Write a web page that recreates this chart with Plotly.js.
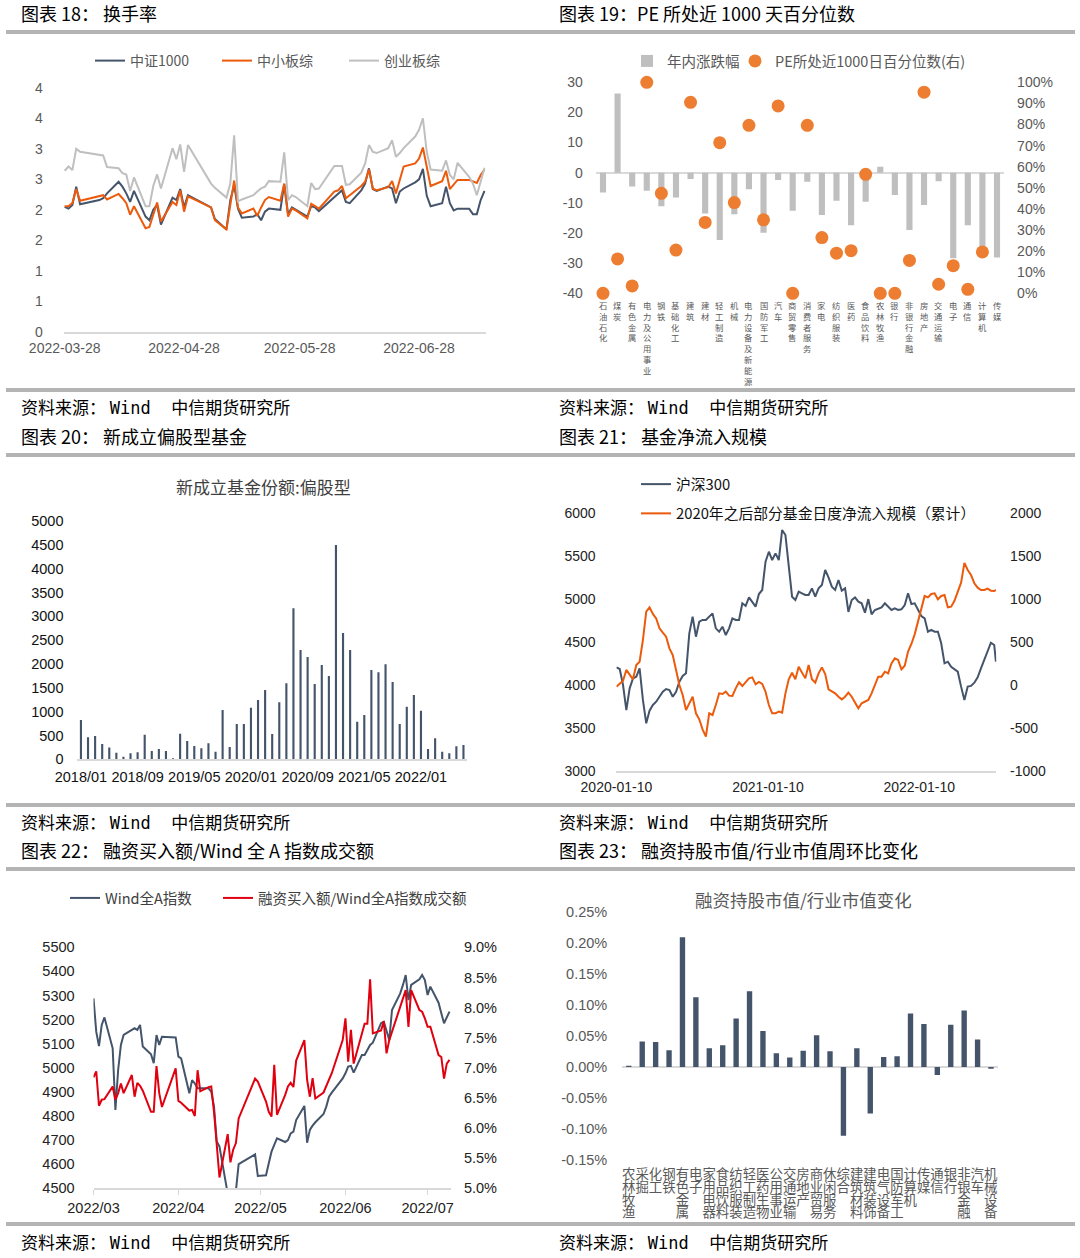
<!DOCTYPE html>
<html><head><meta charset="utf-8">
<script src="https://cdn.plot.ly/plotly-3.0.1.min.js"></script>
<style>html,body{margin:0;padding:0;background:#fff}#chart{width:1080px;height:1258px}</style>
</head><body><div id="chart"></div>
<script>
// ---------------- DATA ----------------
// Chart 18 换手率
const turnDates = ['2022-03-28','2022-03-29','2022-03-30','2022-03-31','2022-04-01','2022-04-06','2022-04-07','2022-04-08','2022-04-11','2022-04-12','2022-04-13','2022-04-14','2022-04-15','2022-04-18','2022-04-19','2022-04-20','2022-04-21','2022-04-22','2022-04-25','2022-04-26','2022-04-27','2022-04-28','2022-04-29','2022-05-05','2022-05-06','2022-05-09','2022-05-10','2022-05-11','2022-05-12','2022-05-13','2022-05-16','2022-05-17','2022-05-18','2022-05-19','2022-05-20','2022-05-23','2022-05-24','2022-05-25','2022-05-26','2022-05-27','2022-05-30','2022-05-31','2022-06-01','2022-06-02','2022-06-06','2022-06-07','2022-06-08','2022-06-09','2022-06-10','2022-06-13','2022-06-14','2022-06-15','2022-06-16','2022-06-17','2022-06-20','2022-06-21','2022-06-22','2022-06-23','2022-06-24','2022-06-27','2022-06-28','2022-06-29','2022-06-30','2022-07-01','2022-07-04','2022-07-05','2022-07-06','2022-07-07','2022-07-08','2022-07-11','2022-07-12','2022-07-13','2022-07-14','2022-07-15'];
const zz1000 = [2.05,2.02,2.08,2.38,2.09,2.16,2.19,2.27,2.46,2.38,2.27,2.13,2.31,1.89,1.83,2.00,2.08,1.76,2.20,2.16,2.34,2.04,2.24,2.04,1.85,1.68,2.16,2.40,2.02,1.87,1.89,1.93,1.83,1.97,2.02,2.00,2.42,1.93,2.04,2.00,1.89,2.06,2.04,1.98,2.20,2.26,2.32,2.13,2.11,2.32,2.43,2.68,2.34,2.31,2.38,2.35,2.11,2.30,2.35,2.45,2.50,2.67,2.23,2.06,2.11,2.38,2.11,1.99,2.02,2.02,1.93,1.93,2.16,2.31];
const zxbz = [2.06,2.06,2.11,2.34,2.15,2.22,2.24,2.17,2.26,2.19,2.11,1.92,2.06,1.70,1.72,1.92,2.12,1.81,2.13,2.08,2.32,1.97,2.22,2.04,1.83,1.68,2.11,2.48,2.04,1.94,2.02,1.90,2.04,2.16,2.21,2.15,2.43,1.89,2.02,1.99,1.86,2.10,2.06,2.02,2.30,2.32,2.39,2.19,2.24,2.39,2.46,2.66,2.35,2.32,2.37,2.47,2.27,2.49,2.71,2.76,2.84,3.02,2.70,2.39,2.47,2.64,2.34,2.41,2.49,2.49,2.47,2.44,2.57,2.66];
const cybz = [2.64,2.71,2.65,3.00,2.95,2.90,2.89,2.70,2.68,2.60,2.58,2.31,2.53,2.06,2.06,2.39,2.58,2.35,3.01,2.83,3.07,2.62,3.06,2.43,2.36,2.20,2.43,3.22,2.14,2.17,2.24,2.30,2.35,2.38,2.47,2.46,2.94,2.16,2.24,2.21,2.06,2.44,2.34,2.35,2.72,2.72,2.72,2.41,2.42,2.61,2.76,3.06,2.95,2.93,3.01,3.14,2.87,2.93,3.01,3.20,3.31,3.50,2.95,2.66,2.64,2.81,2.57,2.50,2.77,2.54,2.43,2.24,2.46,2.69];
const turnTickVals = [0,0.5,1,1.5,2,2.5,3,3.5,4];
const turnTickText = ['0','1','1','2','2','3','3','4','4'];
const turnXTicks = ['2022-03-28','2022-04-28','2022-05-28','2022-06-28'];

// Chart 19 PE 百分位
const peCats = ['石油石化','煤炭','有色金属','电力及公用事业','钢铁','基础化工','建筑','建材','轻工制造','机械','电力设备及新能源','国防军工','汽车','商贸零售','消费者服务','家电','纺织服装','医药','食品饮料','农林牧渔','银行','非银行金融','房地产','交通运输','电子','通信','计算机','传媒'];
const peYtd = [-6.6,26.3,-4.6,-6.0,-11.1,-8.2,-2.1,-13.5,-22.3,-13.8,-5.5,-19.9,-2.4,-12.6,-3.0,-14.0,-9.3,-17.4,-9.6,2.0,-7.4,-19.0,-10.7,-2.8,-28.4,-17.4,-25.7,-28.1];
const pePct = [0,16.3,3.5,100,47.4,20.5,90.5,33.6,71.4,43.0,79.6,34.8,88.8,0,79.6,26.4,19.0,20.2,56.4,0,0,15.6,95.3,4.3,13.1,1.9,19.6,null];
const peLeftTicks = [-40,-30,-20,-10,0,10,20,30];
const peLeftText = ['-40','-30','-20','-10','0','10','20','30'];
const peRightTicks = [0,10,20,30,40,50,60,70,80,90,100];
const peRightText = ['0%','10%','20%','30%','40%','50%','60%','70%','80%','90%','100%'];

// Chart 20 新成立偏股型基金份额
const fundMonths = ['2018/01','2018/02','2018/03','2018/04','2018/05','2018/06','2018/07','2018/08','2018/09','2018/10','2018/11','2018/12','2019/01','2019/02','2019/03','2019/04','2019/05','2019/06','2019/07','2019/08','2019/09','2019/10','2019/11','2019/12','2020/01','2020/02','2020/03','2020/04','2020/05','2020/06','2020/07','2020/08','2020/09','2020/10','2020/11','2020/12','2021/01','2021/02','2021/03','2021/04','2021/05','2021/06','2021/07','2021/08','2021/09','2021/10','2021/11','2021/12','2022/01','2022/02','2022/03','2022/04','2022/05','2022/06','2022/07'];
const fundShares = [825,462,490,322,245,140,56,126,147,517,175,217,175,21,538,385,280,231,336,161,1035,259,741,741,1084,1245,1455,531,1196,1594,3168,2294,2147,1580,1979,1748,4497,2650,2294,790,930,1874,1825,1993,1622,741,1105,1350,1021,217,441,161,126,273,301];
const fundTicks = ['2018/01','2018/09','2019/05','2020/01','2020/09','2021/05','2022/01'];

// Chart 21 基金净流入
const flowDates = ['2020-01-10','2020-01-18','2020-01-26','2020-02-03','2020-02-11','2020-02-19','2020-02-27','2020-03-06','2020-03-14','2020-03-22','2020-03-30','2020-04-07','2020-04-15','2020-04-23','2020-05-01','2020-05-09','2020-05-17','2020-05-25','2020-06-02','2020-06-10','2020-06-18','2020-06-26','2020-07-04','2020-07-12','2020-07-20','2020-07-28','2020-08-05','2020-08-13','2020-08-21','2020-08-29','2020-09-06','2020-09-14','2020-09-22','2020-09-30','2020-10-08','2020-10-16','2020-10-24','2020-11-01','2020-11-09','2020-11-17','2020-11-25','2020-12-03','2020-12-11','2020-12-19','2020-12-27','2021-01-04','2021-01-12','2021-01-20','2021-01-28','2021-02-05','2021-02-13','2021-02-21','2021-03-01','2021-03-09','2021-03-17','2021-03-25','2021-04-02','2021-04-10','2021-04-18','2021-04-26','2021-05-04','2021-05-12','2021-05-20','2021-05-28','2021-06-05','2021-06-13','2021-06-21','2021-06-29','2021-07-07','2021-07-15','2021-07-23','2021-07-31','2021-08-08','2021-08-16','2021-08-24','2021-09-01','2021-09-09','2021-09-17','2021-09-25','2021-10-03','2021-10-11','2021-10-19','2021-10-27','2021-11-04','2021-11-12','2021-11-20','2021-11-28','2021-12-06','2021-12-14','2021-12-22','2021-12-30','2022-01-07','2022-01-15','2022-01-23','2022-01-31','2022-02-08','2022-02-16','2022-02-24','2022-03-04','2022-03-12','2022-03-20','2022-03-28','2022-04-05','2022-04-13','2022-04-21','2022-04-29','2022-05-07','2022-05-15','2022-05-23','2022-05-31','2022-06-08','2022-06-16','2022-06-24','2022-07-02','2022-07-10','2022-07-14'];
const hs300 = [4205,4186,4000,3709,3961,4077,4097,4194,3826,3554,
3702,3768,3806,3864,3922,3953,3942,3864,3922,4039,
4105,4136,4601,4795,4562,4736,4756,4756,4795,4833,
4659,4620,4678,4581,4659,4775,4756,4756,4950,4919,
5019,4969,4911,5058,5105,5434,5550,5453,5531,5453,
5802,5744,5376,5027,4988,5085,5066,5047,5047,5124,
5027,5124,5163,5337,5252,5143,5105,5221,5097,5124,
4850,4988,5019,4969,4950,4841,4999,4822,4872,4892,
4903,4950,4911,4872,4892,4872,4880,4930,5066,4942,
4950,4880,4802,4775,4620,4640,4620,4620,4485,4252,
4271,4213,4186,4155,3981,3826,3981,3989,4027,4089,
4194,4291,4388,4492,4465,4271];
const fundFlow = [-19,19,50,175,116,66,233,271,523,853,
903,826,775,659,609,562,426,349,175,0,
-116,-291,-213,-136,-329,-399,-516,-601,-329,-349,
-233,-97,-105,-78,-124,-128,-39,31,-12,27,
77,89,8,35,12,-78,-233,-329,-329,-310,
-322,-97,66,143,66,213,136,77,233,66,
27,136,205,128,-50,-78,-97,-136,-167,-136,
-89,-136,-202,-271,-213,-194,-174,-97,0,97,
97,155,136,252,310,291,182,225,388,477,
589,736,880,1035,1019,1058,1066,996,1035,1047,
903,911,980,1074,1190,1420,1337,1279,1182,1132,
1105,1105,1120,1097,1093,1105];
const flowXTicks = ['2020-01-10','2021-01-10','2022-01-10'];
const flowRightTicks = [-1000,-500,0,500,1000,1500,2000];
const flowRightText = ['-1000','-500','0','500','1000','1500','2000'];

// Chart 22 融资买入额/Wind全A成交额
const marginDates = ['2022-03-07','2022-03-08','2022-03-09','2022-03-10','2022-03-11','2022-03-14','2022-03-15','2022-03-16','2022-03-17','2022-03-18','2022-03-21','2022-03-22','2022-03-23','2022-03-24','2022-03-25','2022-03-28','2022-03-29','2022-03-30','2022-03-31','2022-04-01','2022-04-06','2022-04-07','2022-04-08','2022-04-11','2022-04-12','2022-04-13','2022-04-14','2022-04-15','2022-04-18','2022-04-19','2022-04-20','2022-04-21','2022-04-22','2022-04-25','2022-04-26','2022-04-27','2022-04-28','2022-04-29','2022-05-05','2022-05-06','2022-05-09','2022-05-10','2022-05-11','2022-05-12','2022-05-13','2022-05-16','2022-05-17','2022-05-18','2022-05-19','2022-05-20','2022-05-23','2022-05-24','2022-05-25','2022-05-26','2022-05-27','2022-05-30','2022-05-31','2022-06-01','2022-06-02','2022-06-06','2022-06-07','2022-06-08','2022-06-09','2022-06-10','2022-06-13','2022-06-14','2022-06-15','2022-06-16','2022-06-17','2022-06-20','2022-06-21','2022-06-22','2022-06-23','2022-06-24','2022-06-27','2022-06-28','2022-06-29','2022-06-30','2022-07-01','2022-07-04','2022-07-05','2022-07-06','2022-07-07','2022-07-08','2022-07-11','2022-07-12','2022-07-13','2022-07-14','2022-07-15'];
const windA = [5288,5150,5090,5178,5209,5081,4825,4991,5095,5136,5157,5164,5157,5178,5088,5056,5019,5136,5095,5129,5126,5046,5039,4894,4949,4935,4915,4915,4915,4901,4839,4694,4673,4478,4440,4455,4490,4600,4641,4551,4554,4604,4652,4680,4707,4692,4700,4728,4735,4783,4842,4689,4742,4760,4774,4808,4839,4880,4897,4956,4977,5005,5008,4980,5053,5053,5074,5095,5104,5185,5191,5150,5115,5240,5309,5344,5385,5281,5344,5367,5385,5364,5302,5337,5270,5226,5185,5209,5233];
const marginRatio = [6.84,6.94,6.37,6.47,6.48,6.69,6.47,6.58,6.74,6.58,6.88,6.52,6.75,6.70,6.62,6.27,6.27,7.03,6.58,6.35,6.99,6.45,6.42,6.29,6.30,6.20,6.96,6.61,6.68,6.69,6.27,5.77,5.18,5.90,5.43,5.64,5.75,6.16,6.82,6.77,6.44,6.27,6.19,7.05,6.22,6.55,6.69,6.75,6.68,7.12,7.46,6.80,6.52,6.83,6.49,6.59,6.69,6.82,6.91,7.46,7.82,7.10,7.63,7.07,7.54,7.73,7.73,8.47,7.57,7.62,7.77,7.24,7.46,7.60,8.01,8.18,8.29,7.68,8.29,7.96,7.93,7.82,7.68,7.68,7.21,7.18,6.82,7.07,7.13];
const marginXTicks = ['2022-03-07','2022-04-07','2022-05-07','2022-06-07','2022-07-07'];
const marginXText = ['2022/03','2022/04','2022/05','2022/06','2022/07'];
const ratioTicks = [5,5.5,6,6.5,7,7.5,8,8.5,9];
const ratioText = ['5.0%','5.5%','6.0%','6.5%','7.0%','7.5%','8.0%','8.5%','9.0%'];

// Chart 23 融资持股市值/行业市值变化
const indCats = ['农林牧渔','采掘','化工','钢铁','有色金属','电子','家用电器','食品饮料','纺织服装','轻工制造','医药生物','公用事业','交通运输','房地产','商业贸易','休闲服务','综合','建筑材料','建筑装饰','电气设备','国防军工','计算机','传媒','通信','银行','非银金融','汽车','机械设备'];
const indChange = [0.002,0.041,0.040,0.027,0.209,0.112,0.030,0.035,0.078,0.122,0.058,0.022,0.015,0.026,0.051,0.025,-0.111,0.030,-0.075,0.016,0.017,0.086,0.069,-0.013,0.068,0.091,0.044,-0.003];
const indTicks = [-0.15,-0.10,-0.05,0,0.05,0.10,0.15,0.20,0.25];
const indTickText = ['-0.15%','-0.10%','-0.05%','0.00%','0.05%','0.10%','0.15%','0.20%','0.25%'];

// ---------------- LAYOUT HELPERS ----------------
const W = 1080, H = 1258;
const X = p => p / W;
const Y = p => 1 - p / H;
const FONT = 'Liberation Sans, "Noto Sans CJK SC", sans-serif';
const CJK = '"Noto Sans CJK SC", sans-serif';
const DARK = '#44546a', ORANGE = '#ec5a0c', GRAYL = '#bfbfbf', RED = '#e0000f', AXC = '#d9d9d9';
const NOTICK = 'rgba(0,0,0,0)';

function tf(size, color) { return {family: FONT, size: size, color: color}; }

const traces = [
  {type:'scatter', mode:'lines', x:turnDates, y:zz1000, name:'中证1000', line:{color:DARK, width:2}, xaxis:'x', yaxis:'y', legend:'legend'},
  {type:'scatter', mode:'lines', x:turnDates, y:zxbz, name:'中小板综', line:{color:ORANGE, width:2}, xaxis:'x', yaxis:'y', legend:'legend'},
  {type:'scatter', mode:'lines', x:turnDates, y:cybz, name:'创业板综', line:{color:GRAYL, width:2}, xaxis:'x', yaxis:'y', legend:'legend'},
  {type:'bar', x:peCats, y:peYtd, name:'年内涨跌幅', marker:{color:'#bfbfbf'}, width:0.42, xaxis:'x2', yaxis:'y2', legend:'legend2'},
  {type:'scatter', mode:'markers', x:peCats, y:pePct, name:'PE所处近1000日百分位数(右)', marker:{color:'#ed7d31', size:13}, cliponaxis:false, xaxis:'x2', yaxis:'y3', legend:'legend5'},
  {type:'bar', x:fundMonths, y:fundShares, name:'新成立基金份额:偏股型', marker:{color:DARK}, width:0.3, xaxis:'x3', yaxis:'y4', showlegend:false},
  {type:'scatter', mode:'lines', x:flowDates, y:hs300, name:'沪深300', line:{color:DARK, width:2}, xaxis:'x4', yaxis:'y5', legend:'legend3', legendgroup:'a'},
  {type:'scatter', mode:'lines', x:flowDates, y:fundFlow, name:'2020年之后部分基金日度净流入规模（累计）', line:{color:ORANGE, width:2}, xaxis:'x4', yaxis:'y6', legend:'legend3', legendgroup:'b'},
  {type:'scatter', mode:'lines', x:marginDates, y:windA, name:'Wind全A指数', line:{color:DARK, width:2}, xaxis:'x5', yaxis:'y7', legend:'legend4'},
  {type:'scatter', mode:'lines', x:marginDates, y:marginRatio, name:'融资买入额/Wind全A指数成交额', line:{color:RED, width:2}, xaxis:'x5', yaxis:'y8', legend:'legend6'},
  {type:'bar', x:indCats, y:indChange, name:'融资持股市值/行业市值变化', marker:{color:DARK}, width:0.4, xaxis:'x6', yaxis:'y9', showlegend:false}
];

const annotations = [];
function addText(px, py, text, size, color, family, anchor) {
  annotations.push({xref:'paper', yref:'paper', x:X(px), y:Y(py), text:text, showarrow:false, borderpad:0,
    xanchor:anchor || 'left', yanchor:'middle', font:{family:family || CJK, size:size, color:color}});
}
const headings = [
  [20, 13, '图表 18： 换手率'], [558, 13, '图表 19：PE 所处近 1000 天百分位数'],
  [20, 436, '图表 20： 新成立偏股型基金'], [558, 436, '图表 21： 基金净流入规模'],
  [20, 850, '图表 22： 融资买入额/Wind 全 A 指数成交额'], [558, 850, '图表 23： 融资持股市值/行业市值周环比变化']
];
headings.forEach(h => addText(h[0], h[1], h[2], 18, '#000'));
const src = '资料来源：\u00a0<span style="font-family:DejaVu Sans Mono">Wind\u00a0\u00a0</span>中信期货研究所';
[[20,407],[558,407],[20,821],[558,821],[20,1241],[558,1241]].forEach(p => addText(p[0], p[1], src, 17, '#000'));
addText(263, 486, '新成立基金份额:偏股型', 17, '#404040', CJK, 'center');
addText(803, 899, '融资持股市值/行业市值变化', 17.5, '#595959', CJK, 'center');

// Chart 19: one stacked (vertical) label per category
peCats.forEach(c => {
  annotations.push({xref:'x2', yref:'paper', x:c, y:Y(298.5), text:Array.from(c).join('<br>'), showarrow:false,
    borderpad:0, xanchor:'center', yanchor:'top', align:'center', font:{family:CJK, size:8.3, color:'#595959'}});
});
// Chart 23: labels read row by row; each row is one text, one full-width glyph per category slot
const slotPx = (997.7 - 622.1) / indCats.length;
for (let r = 0; r < 4; r++) {
  const row = indCats.map(c => Array.from(c)[r] || '\u3000').join('');
  annotations.push({xref:'x6', yref:'paper', x:(indCats.length - 1) / 2, y:Y(1173.3 + r * 12.6), text:row, showarrow:false,
    borderpad:0, xanchor:'center', yanchor:'middle', font:{family:CJK, size:slotPx, color:'#595959'}});
}

const shapes = [[30,34],[388,392],[453,457],[803,807],[867,871],[1222,1226]].map(r => ({
  type:'rect', xref:'paper', yref:'paper', x0:X(6), x1:X(1075), y0:Y(r[1]), y1:Y(r[0]),
  fillcolor:'#b4b4b4', line:{width:0}
}));

function oneLegend(xpx, ypx, size, color) {
  return {x:X(xpx), xanchor:'left', y:Y(ypx), yanchor:'middle', orientation:'h', bgcolor:'rgba(0,0,0,0)',
    font:{family:CJK, size:size, color:color}};
}

const layout = {
  width:W, height:H, margin:{l:0,r:0,t:0,b:0}, paper_bgcolor:'#fff', plot_bgcolor:'rgba(0,0,0,0)',
  font:{family:FONT}, annotations:annotations, shapes:shapes,
  // Panel 1
  xaxis:{domain:[X(63.7),X(485.5)], anchor:'y', type:'date', range:['2022-03-27 18:00','2022-07-15 06:00'],
    tickvals:turnXTicks, ticktext:turnXTicks, showgrid:false, zeroline:false, showline:true, linecolor:AXC, linewidth:2,
    ticks:'outside', tickcolor:NOTICK, ticklen:2, tickfont:tf(14,'#595959')},
  yaxis:{domain:[Y(332),Y(87.7)], anchor:'x', range:[0,4], tickvals:turnTickVals, ticktext:turnTickText,
    showgrid:false, zeroline:false, showline:false, ticks:'outside', tickcolor:NOTICK, ticklen:17, tickfont:tf(14,'#595959')},
  // Panel 2
  xaxis2:{domain:[X(595.7),X(1004.3)], anchor:'y2', type:'category', range:[-0.5,27.5], showticklabels:false,
    showgrid:false, zeroline:false, showline:false, ticks:''},
  yaxis2:{domain:[Y(293.3),Y(82.3)], anchor:'x2', range:[-40,30], tickvals:peLeftTicks, ticktext:peLeftText,
    showgrid:false, zeroline:true, zerolinecolor:AXC, zerolinewidth:2, showline:false,
    ticks:'outside', tickcolor:NOTICK, ticklen:9, tickfont:tf(14,'#595959')},
  yaxis3:{overlaying:'y2', side:'right', anchor:'x2', range:[0,100], tickvals:peRightTicks, ticktext:peRightText,
    showgrid:false, zeroline:false, showline:false, ticks:'outside', tickcolor:NOTICK, ticklen:9, tickfont:tf(14,'#595959')},
  // Panel 3
  xaxis3:{domain:[X(77.4),X(467)], anchor:'y4', type:'category', range:[-0.5,54.5], tickvals:fundTicks, ticktext:fundTicks,
    tickangle:0, showgrid:false, zeroline:false, showline:true, linecolor:AXC, linewidth:2,
    ticks:'outside', tickcolor:NOTICK, ticklen:3, tickfont:tf(14.5,'#111')},
  yaxis4:{domain:[Y(759.3),Y(521)], anchor:'x3', range:[0,5000], dtick:500, tick0:0,
    showgrid:false, zeroline:false, showline:false, ticks:'outside', tickcolor:NOTICK, ticklen:10, tickfont:tf(14.5,'#111')},
  // Panel 4
  xaxis4:{domain:[X(616.4),X(996.3)], anchor:'y5', type:'date', range:['2020-01-10','2022-07-15'],
    tickvals:flowXTicks, ticktext:flowXTicks, showgrid:false, zeroline:false, showline:true, linecolor:AXC, linewidth:2,
    ticks:'outside', tickcolor:NOTICK, ticklen:2, tickfont:tf(14,'#222')},
  yaxis5:{domain:[Y(771),Y(513)], anchor:'x4', range:[3000,6000], dtick:500, tick0:3000,
    showgrid:false, zeroline:false, showline:false, ticks:'outside', tickcolor:NOTICK, ticklen:17, tickfont:tf(14,'#222')},
  yaxis6:{overlaying:'y5', side:'right', anchor:'x4', range:[-1000,2000], tickvals:flowRightTicks, ticktext:flowRightText,
    showgrid:false, zeroline:false, showline:false, ticks:'outside', tickcolor:NOTICK, ticklen:10, tickfont:tf(14,'#222')},
  // Panel 5
  xaxis5:{domain:[X(93.5),X(451)], anchor:'y7', type:'date', range:['2022-03-07','2022-07-15 13:00'],
    tickvals:marginXTicks, ticktext:marginXText, showgrid:false, zeroline:false, showline:true, linecolor:AXC, linewidth:2,
    ticks:'outside', tickcolor:AXC, ticklen:5, tickwidth:1.5, ticklabelstandoff:0, tickfont:tf(14.5,'#222')},
  yaxis7:{domain:[Y(1188.3),Y(947.3)], anchor:'x5', range:[4500,5500], dtick:100, tick0:4500,
    showgrid:false, zeroline:false, showline:false, ticks:'outside', tickcolor:NOTICK, ticklen:15, tickfont:tf(14.5,'#222')},
  yaxis8:{overlaying:'y7', side:'right', anchor:'x5', range:[5,9], tickvals:ratioTicks, ticktext:ratioText,
    showgrid:false, zeroline:false, showline:false, ticks:'outside', tickcolor:NOTICK, ticklen:9, tickfont:tf(14.5,'#222')},
  // Panel 6
  xaxis6:{domain:[X(622.1),X(997.7)], anchor:'y9', type:'category', range:[-0.5,27.5], showticklabels:false,
    showgrid:false, zeroline:false, showline:false, ticks:''},
  yaxis9:{domain:[Y(1160),Y(911.7)], anchor:'x6', range:[-0.15,0.25], tickvals:indTicks, ticktext:indTickText,
    showgrid:false, zeroline:true, zerolinecolor:AXC, zerolinewidth:2, showline:false,
    ticks:'outside', tickcolor:NOTICK, ticklen:11, tickfont:tf(14.5,'#595959')},
  // Legends
  legend:{x:X(90), xanchor:'left', y:Y(61), yanchor:'middle', orientation:'h', bgcolor:'rgba(0,0,0,0)',
    entrywidth:82, entrywidthmode:'pixels', font:{family:CJK, size:14, color:'#595959'}},
  legend2:oneLegend(627, 61, 14.5, '#595959'),
  legend5:oneLegend(735, 61, 14.5, '#595959'),
  legend3:{x:X(636), xanchor:'left', y:Y(468), yanchor:'top', orientation:'v', bgcolor:'rgba(0,0,0,0)',
    tracegroupgap:7, font:{family:CJK, size:14.8, color:'#111'}},
  legend4:oneLegend(65, 898, 14.5, '#404040'),
  legend6:oneLegend(218, 898, 14.5, '#404040'),
  bargap:0.5
};

Plotly.newPlot('chart', traces, layout, {staticPlot:true, displayModeBar:false});
</script>
</body></html>
